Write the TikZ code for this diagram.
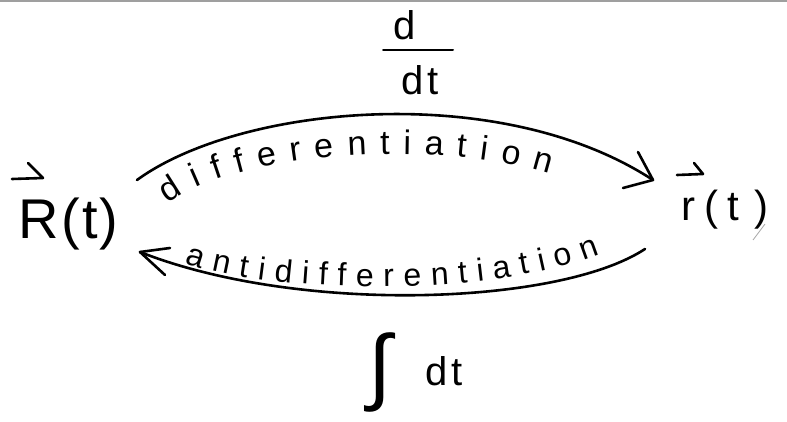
\documentclass[tikz,border=0pt]{standalone}
\usepackage{fontspec}
\setmainfont{Liberation Sans}
\usetikzlibrary{decorations.text}
\tikzset{
  stroke/.style={line width=2.6pt, line cap=round, line join=round},
  thinstroke/.style={line width=2pt, line cap=round, line join=round},
  bigtext/.style={inner sep=0pt, font=\fontsize{56}{56}\selectfont},
  midtext/.style={inner sep=0pt, font=\fontsize{42}{42}\selectfont},
  fractext/.style={inner sep=0pt, font=\fontsize{40}{40}\selectfont},
}
\begin{document}
\begin{tikzpicture}[x=1pt,y=-1pt]
\useasboundingbox (0,0) rectangle (787,422);
\fill[gray!75] (0,0) rectangle (787,2.5);

% main nodes
\node[bigtext, anchor=base west] (R) at (18,238) {R\kern3pt(\kern2pt t\kern2pt)};
\node[midtext, anchor=base west] (r) at (681,221) {r\kern9pt(\kern9pt t\kern16pt)};

% vector arrows
\coordinate (Ra) at (12,179);
\coordinate (Rb) at (43,178);
\coordinate (Rc) at (28,163);
\draw[stroke] (Ra) -- (Rb) -- (Rc);
\coordinate (ra) at (677,175);
\coordinate (rb) at (703,174);
\coordinate (rc) at (694,163);
\draw[stroke] (ra) -- (rb) -- (rc);

% stray mark
\coordinate (s1) at (753,240);
\coordinate (s2) at (765,224);
\draw[gray!70, line width=0.8pt] (s1) -- (s2);

% top arc
\coordinate (t1) at (137,180);
\coordinate (t2) at (653,180);
\draw[stroke] (t1) .. controls (240,105) and (500,80) .. (t2);
\coordinate (th1) at (638,152);
\coordinate (th2) at (623,188);
\draw[stroke] (th1) -- (t2) -- (th2);

% bottom arc
\coordinate (b1) at (645,249);
\coordinate (b2) at (140,252);
\draw[stroke] (b1) .. controls (560,305) and (300,315) .. (b2);
\coordinate (bh1) at (170,248);
\coordinate (bh2) at (165,275);
\draw[stroke] (bh1) -- (b2) -- (bh2);

% labels along arcs
\coordinate (d1) at (168,204);
\coordinate (d2) at (550,174);
\path[decorate, decoration={text along path, text align=fit to path,
  text={|\fontsize{34}{34}\selectfont|differentiation}}]
  (d1) .. controls (240,150) and (440,140) .. (d2);
\coordinate (a1) at (185,263);
\coordinate (a2) at (600,254);
\path[decorate, decoration={text along path, text align=fit to path,
  text={|\fontsize{32}{32}\selectfont|antidifferentiation}}]
  (a1) .. controls (260,291) and (480,301) .. (a2);

% d/dt
\node[fractext, anchor=base] (dn) at (405,40) {d};
\coordinate (f1) at (383,50);
\coordinate (f2) at (453,50);
\draw[thinstroke] (f1) -- (f2);
\node[fractext, anchor=base] (dd) at (420,95) {d\kern3pt t};

% integral dt
\node[inner sep=0pt, font=\fontsize{84}{84}\selectfont] (int) at (380,372) {∫};
\node[fractext, anchor=base] (idt) at (444,385) {d\kern3pt t};
\end{tikzpicture}
\end{document}
